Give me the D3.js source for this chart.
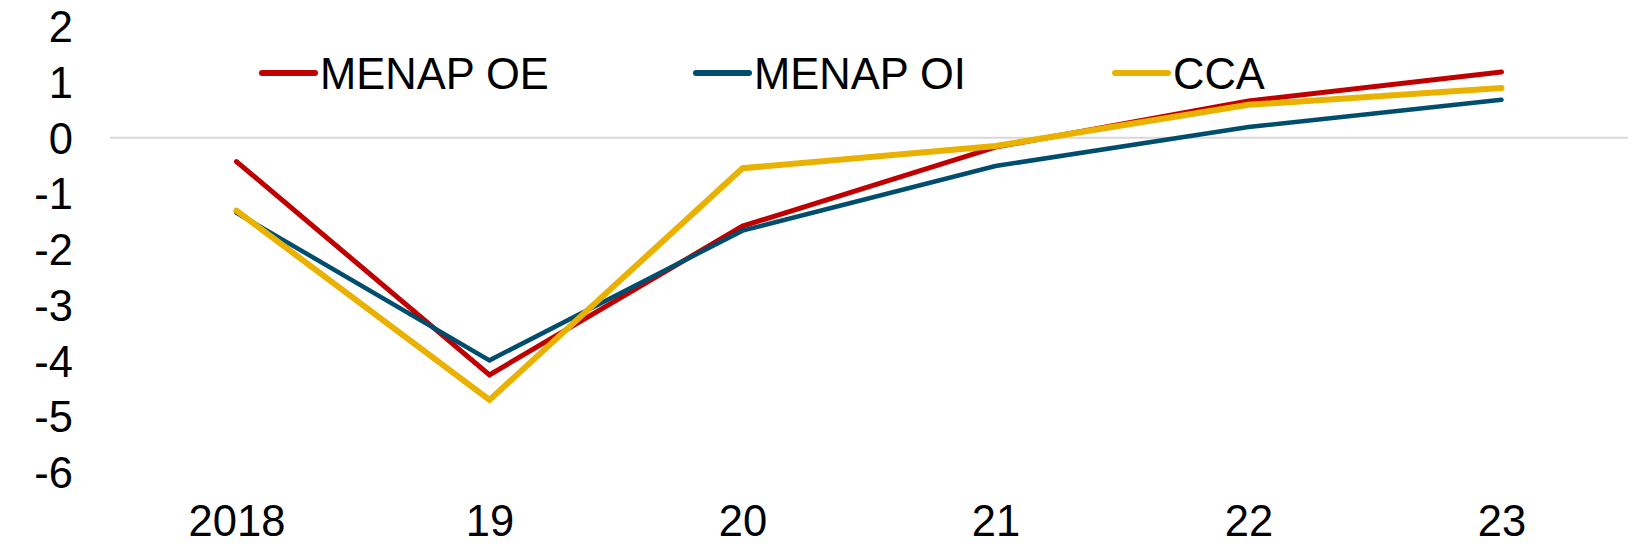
<!DOCTYPE html>
<html>
<head>
<meta charset="utf-8">
<script src="https://cdn.jsdelivr.net/npm/d3@7"></script>
<style>
  html, body { margin: 0; padding: 0; background: #fff; }
  text { font-family: "Liberation Sans", Arial, sans-serif; }
</style>
</head>
<body>
<div id="chart"></div>
<script>
const width = 1641;
const height = 550;

const margin = { top: 26.3, left: 110, bottom: 550 - 471.7, right: 1641 - 1628 };

// data
const years = ["2018", "19", "20", "21", "22", "23"];
const menapOE = [-0.43, -4.26, -1.59, -0.17, 0.66, 1.18];
const menapOI = [-1.35, -4.00, -1.67, -0.51, 0.19, 0.68];
const cca = [-1.31, -4.71, -0.55, -0.15, 0.59, 0.89];
const yTicks = [2, 1, 0, -1, -2, -3, -4, -5, -6];

const series = [
    { name: "MENAP OE", values: menapOE, color: "#c00000", width: 5, legendX: 262 },
    { name: "MENAP OI", values: menapOI, color: "#004e6e", width: 4.5, legendX: 696 },
    { name: "CCA", values: cca, color: "#e9b200", width: 6, legendX: 1115 }
];

const fontSize = 43.5;

const svg = d3.select("#chart").append("svg")
    .attr("width", width)
    .attr("height", height);

const xScale = d3.scalePoint()
    .domain(years)
    .range([margin.left, width - margin.right])
    .padding(0.5);

const yScale = d3.scaleLinear()
    .domain([-6, 2])
    .range([height - margin.bottom, margin.top]);

// zero line
svg.append("line")
    .attr("x1", margin.left)
    .attr("x2", width - margin.right)
    .attr("y1", yScale(0))
    .attr("y2", yScale(0))
    .attr("stroke", "#d9d9d9")
    .attr("stroke-width", 2);

// y axis labels (plain hyphen for negatives, like the original)
const yAxis = d3.axisLeft(yScale).tickValues(yTicks).tickFormat(d => String(d)).tickSize(0).tickPadding(0);
svg.append("g")
    .attr("transform", "translate(73,0)")
    .call(yAxis)
    .call(g => g.select(".domain").remove())
    .selectAll("text")
    .attr("font-size", fontSize)
    .attr("fill", "#000")
    .attr("dy", "0.36em")
    .style("font-family", "'Liberation Sans', Arial, sans-serif");

// x axis labels
const xAxis = d3.axisBottom(xScale).tickSize(0).tickPadding(0);
svg.append("g")
    .attr("transform", "translate(0,520)")
    .call(xAxis)
    .call(g => g.select(".domain").remove())
    .selectAll("text")
    .attr("font-size", fontSize)
    .attr("fill", "#000")
    .attr("dy", "0.36em")
    .style("font-family", "'Liberation Sans', Arial, sans-serif");

const line = d3.line()
    .x((d, i) => xScale(years[i]))
    .y(d => yScale(d));

series.forEach(s => {
    svg.append("path")
        .datum(s.values)
        .attr("fill", "none")
        .attr("stroke", s.color)
        .attr("stroke-width", s.width)
        .attr("stroke-linecap", "round")
        .attr("stroke-linejoin", "miter")
        .attr("d", line);
});

// legend
const legend = svg.append("g");
series.forEach(s => {
    legend.append("line")
        .attr("x1", s.legendX)
        .attr("x2", s.legendX + 53)
        .attr("y1", 73)
        .attr("y2", 73)
        .attr("stroke", s.color)
        .attr("stroke-width", 6)
        .attr("stroke-linecap", "round");
    legend.append("text")
        .attr("x", s.legendX + 58)
        .attr("y", 73)
        .attr("dy", "0.36em")
        .attr("font-size", fontSize)
        .attr("fill", "#000")
        .text(s.name);
});
</script>
</body>
</html>
